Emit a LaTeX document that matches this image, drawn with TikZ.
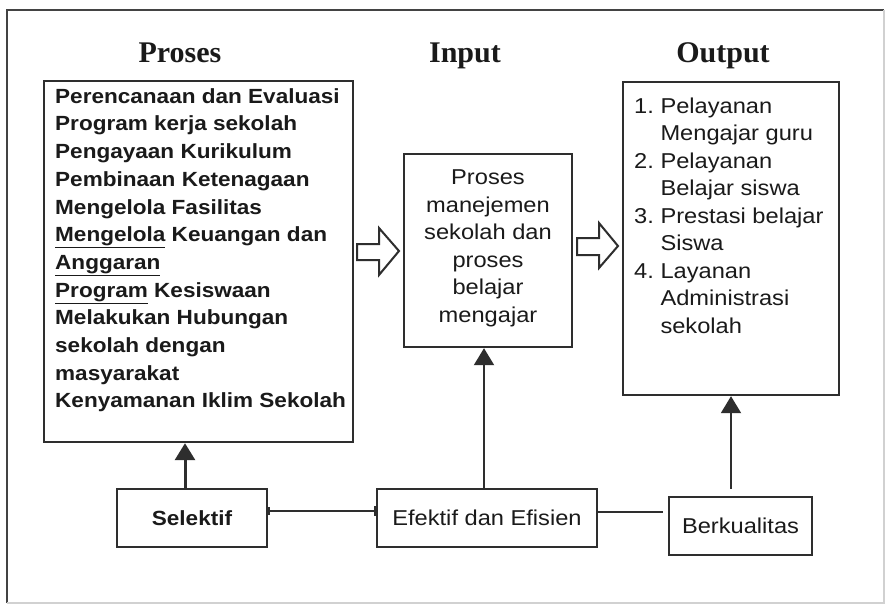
\documentclass[tikz,border=0pt]{standalone}
\usepackage{fontspec}
\setmainfont{Liberation Sans}
\newfontfamily\arialx[FakeStretch=1.1]{Liberation Sans}
\newfontfamily\headf{Liberation Serif}
\usetikzlibrary{arrows.meta,calc}
\definecolor{ink}{HTML}{2E2E2E}
\definecolor{txt}{HTML}{1A1A1A}
\begin{document}
\begin{tikzpicture}[x=1pt,y=-1pt,
  box/.style={draw=ink, line width=2.4pt, inner sep=0pt},
  reg/.style={font=\arialx\fontsize{21.5}{27.5}\selectfont, text=txt},
  bld/.style={font=\arialx\bfseries\fontsize{20.5}{27.7}\selectfont, text=txt},
  head/.style={font=\headf\bfseries\fontsize{30}{36}\selectfont, text=txt},
  conn/.style={draw=ink, line width=2pt},
  uparrow/.style={conn, -{Triangle[width=20pt,length=17pt]}},
  blockarrow/.style={draw=ink, line width=2pt, fill=white, line join=miter}]
\useasboundingbox[fill=white] (0,0) rectangle (887,606);
% outer frame
\draw[line width=2pt, draw=ink!90] (7,603) -- (7,10) -- (884,10);
\draw[line width=1.5pt, draw=black!18] (884,10) -- (884,603) -- (7,603);

% headings
\node[head, anchor=base] (hpro) at (180,62) {Proses};
\node[head, anchor=base] (hinp) at (465,62) {Input};
\node[head, anchor=base] (hout) at (723,62) {Output};

% main boxes
\node[box, minimum width=309pt, minimum height=361pt] (pro) at (198.5,261.5) {};
\node[box, minimum width=168pt, minimum height=193pt] (inp) at (488,250.5) {};
\node[box, minimum width=216pt, minimum height=313pt] (out) at (731,238.5) {};

% box texts
\node[bld, anchor=north west, align=left, inner sep=0pt] (protext) at (55,88.2) {%
Perencanaan dan Evaluasi\\
Program kerja sekolah\\
Pengayaan Kurikulum\\
Pembinaan Ketenagaan\\
Mengelola Fasilitas\\
\underline{Mengelola} Keuangan dan\\
\underline{Anggaran}\\
\underline{Program} Kesiswaan\\
Melakukan Hubungan\\
sekolah dengan\\
masyarakat\\
Kenyamanan Iklim Sekolah};

\node[reg, anchor=north, align=center, inner sep=0pt] (inptext) at (488,169.6) {%
Proses\\ manejemen\\ sekolah dan\\ proses\\ belajar\\ mengajar};

\node[reg, anchor=north west, align=left, inner sep=0pt] (outtext) at (634,97.4) {%
\makebox[26.3pt][l]{1.}Pelayanan\\
\hspace*{26.3pt}Mengajar guru\\
\makebox[26.3pt][l]{2.}Pelayanan\\
\hspace*{26.3pt}Belajar siswa\\
\makebox[26.3pt][l]{3.}Prestasi belajar\\
\hspace*{26.3pt}Siswa\\
\makebox[26.3pt][l]{4.}Layanan\\
\hspace*{26.3pt}Administrasi\\
\hspace*{26.3pt}sekolah};

% bottom boxes
\node[box, bld, minimum width=150pt, minimum height=58pt] (sel) at (192,518) {Selektif};
\node[box, reg, minimum width=220pt, minimum height=58pt] (eff) at (487,518) {Efektif dan Efisien};
\node[box, reg, minimum width=143pt, minimum height=58pt] (berk) at (740.5,526) {Berkualitas};

% block arrows
\coordinate (ba1) at (357,252);
\coordinate (ba2) at (577,246.5);
\draw[blockarrow] (ba1) ++(0,-8) -- ++(22,0) -- ++(0,-16) -- ++(20,23) -- ++(-20,24) -- ++(0,-15) -- ++(-22,0) -- cycle;
\draw[blockarrow] (ba2) ++(0,-8.5) -- ++(22,0) -- ++(0,-15) -- ++(19,23) -- ++(-19,22) -- ++(0,-13) -- ++(-22,0) -- cycle;

% horizontal connectors
\coordinate (c1) at ([yshift=7pt]sel.east);
\draw[conn, {Bar[width=8pt,line width=1.6pt]}-{Bar[width=10pt,line width=1.6pt]}] (c1) -- (c1 -| eff.west);
\coordinate (c2) at ([yshift=6pt]eff.east);
\draw[conn, shorten >=5pt] (c2) -- (c2 -| berk.west);

% vertical arrows
\coordinate (s1) at ([xshift=-7pt]sel.north);
\draw[uparrow, line width=3pt] (s1) -- (s1 |- pro.south);
\coordinate (s2) at ([xshift=-3pt]eff.north);
\draw[uparrow] (s2) -- (s2 |- inp.south);
\coordinate (s3) at ([yshift=7pt]berk.north);
\draw[uparrow] (s3 -| out.south) -- (out.south);
\end{tikzpicture}
\end{document}
